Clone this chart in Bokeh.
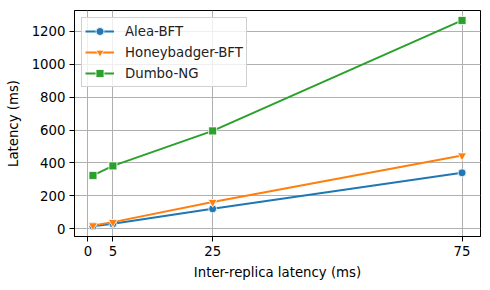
from bokeh.plotting import figure
from bokeh.models import Range1d, FixedTicker, Legend, LegendItem
from bokeh.embed import file_html
from bokeh.resources import INLINE

x_vals = [1, 5, 25, 75]
alea = [15, 30, 121, 340]
honeybadger = [20, 40, 162, 445]
dumbo = [324, 382, 595, 1267]
series_names = ["Alea-BFT", "Honeybadger-BFT", "Dumbo-NG"]
x_ticks = [0, 5, 25, 75]
y_ticks = [0, 200, 400, 600, 800, 1000, 1200]

FONT = "DejaVu Sans"
p = figure(width=482, height=282, output_backend="svg", toolbar_location=None,
           x_range=Range1d(-2.7, 78.7), y_range=Range1d(-47.5, 1327.5),
           min_border_left=74, min_border_right=2, min_border_top=10, min_border_bottom=45)
p.outline_line_color = "black"
p.outline_line_width = 1
p.background_fill_color = "white"
p.border_fill_color = "white"

for ax in (p.xaxis[0], p.yaxis[0]):
    ax.major_label_text_font = FONT
    ax.major_label_text_font_size = "13.3px"
    ax.major_label_text_color = "black"
    ax.axis_label_text_font = FONT
    ax.axis_label_text_font_size = "13.3px"
    ax.axis_label_text_font_style = "normal"
    ax.axis_label_text_color = "black"
    ax.minor_tick_line_color = None
    ax.major_tick_out = 5
    ax.major_tick_in = 0
    ax.major_tick_line_color = "black"
    ax.axis_line_color = "black"
p.xaxis.ticker = FixedTicker(ticks=x_ticks)
p.yaxis.ticker = FixedTicker(ticks=y_ticks)
p.xaxis.axis_label = "Inter-replica latency (ms)"
p.yaxis.axis_label = "Latency (ms)"
p.xaxis.axis_label_standoff = 6
p.yaxis.axis_label_standoff = 8
p.xaxis.major_label_standoff = 4
p.yaxis.major_label_standoff = 4
p.xgrid.ticker = FixedTicker(ticks=x_ticks)
p.ygrid.ticker = FixedTicker(ticks=y_ticks)
for g in (p.xgrid[0], p.ygrid[0]):
    g.grid_line_color = "#b0b0b0"
    g.grid_line_width = 1

colors = ["#1f77b4", "#ff7f0e", "#2ca02c"]
markers = ["circle", "inverted_triangle", "square"]
sizes = [8, 9, 8]
items = []
for name, ys, c, m, s in zip(series_names, [alea, honeybadger, dumbo], colors, markers, sizes):
    l = p.line(x_vals, ys, line_color=c, line_width=2)
    sc = p.scatter(x_vals, ys, marker=m, size=s, fill_color=c, line_color="white", line_width=0.8)
    items.append(LegendItem(label=name, renderers=[l, sc]))

legend = Legend(items=items, location="top_left")
legend.label_text_font = FONT
legend.label_text_font_size = "13.3px"
legend.label_text_color = "#222222"
legend.border_line_color = "#d0d0d0"
legend.border_line_alpha = 1
legend.background_fill_alpha = 0.8
legend.glyph_width = 29
legend.glyph_height = 20
legend.label_height = 20
legend.spacing = 1
legend.label_standoff = 11
legend.padding = 3
legend.margin = 7
p.add_layout(legend)

open("out.html", "w").write(file_html(p, INLINE))
